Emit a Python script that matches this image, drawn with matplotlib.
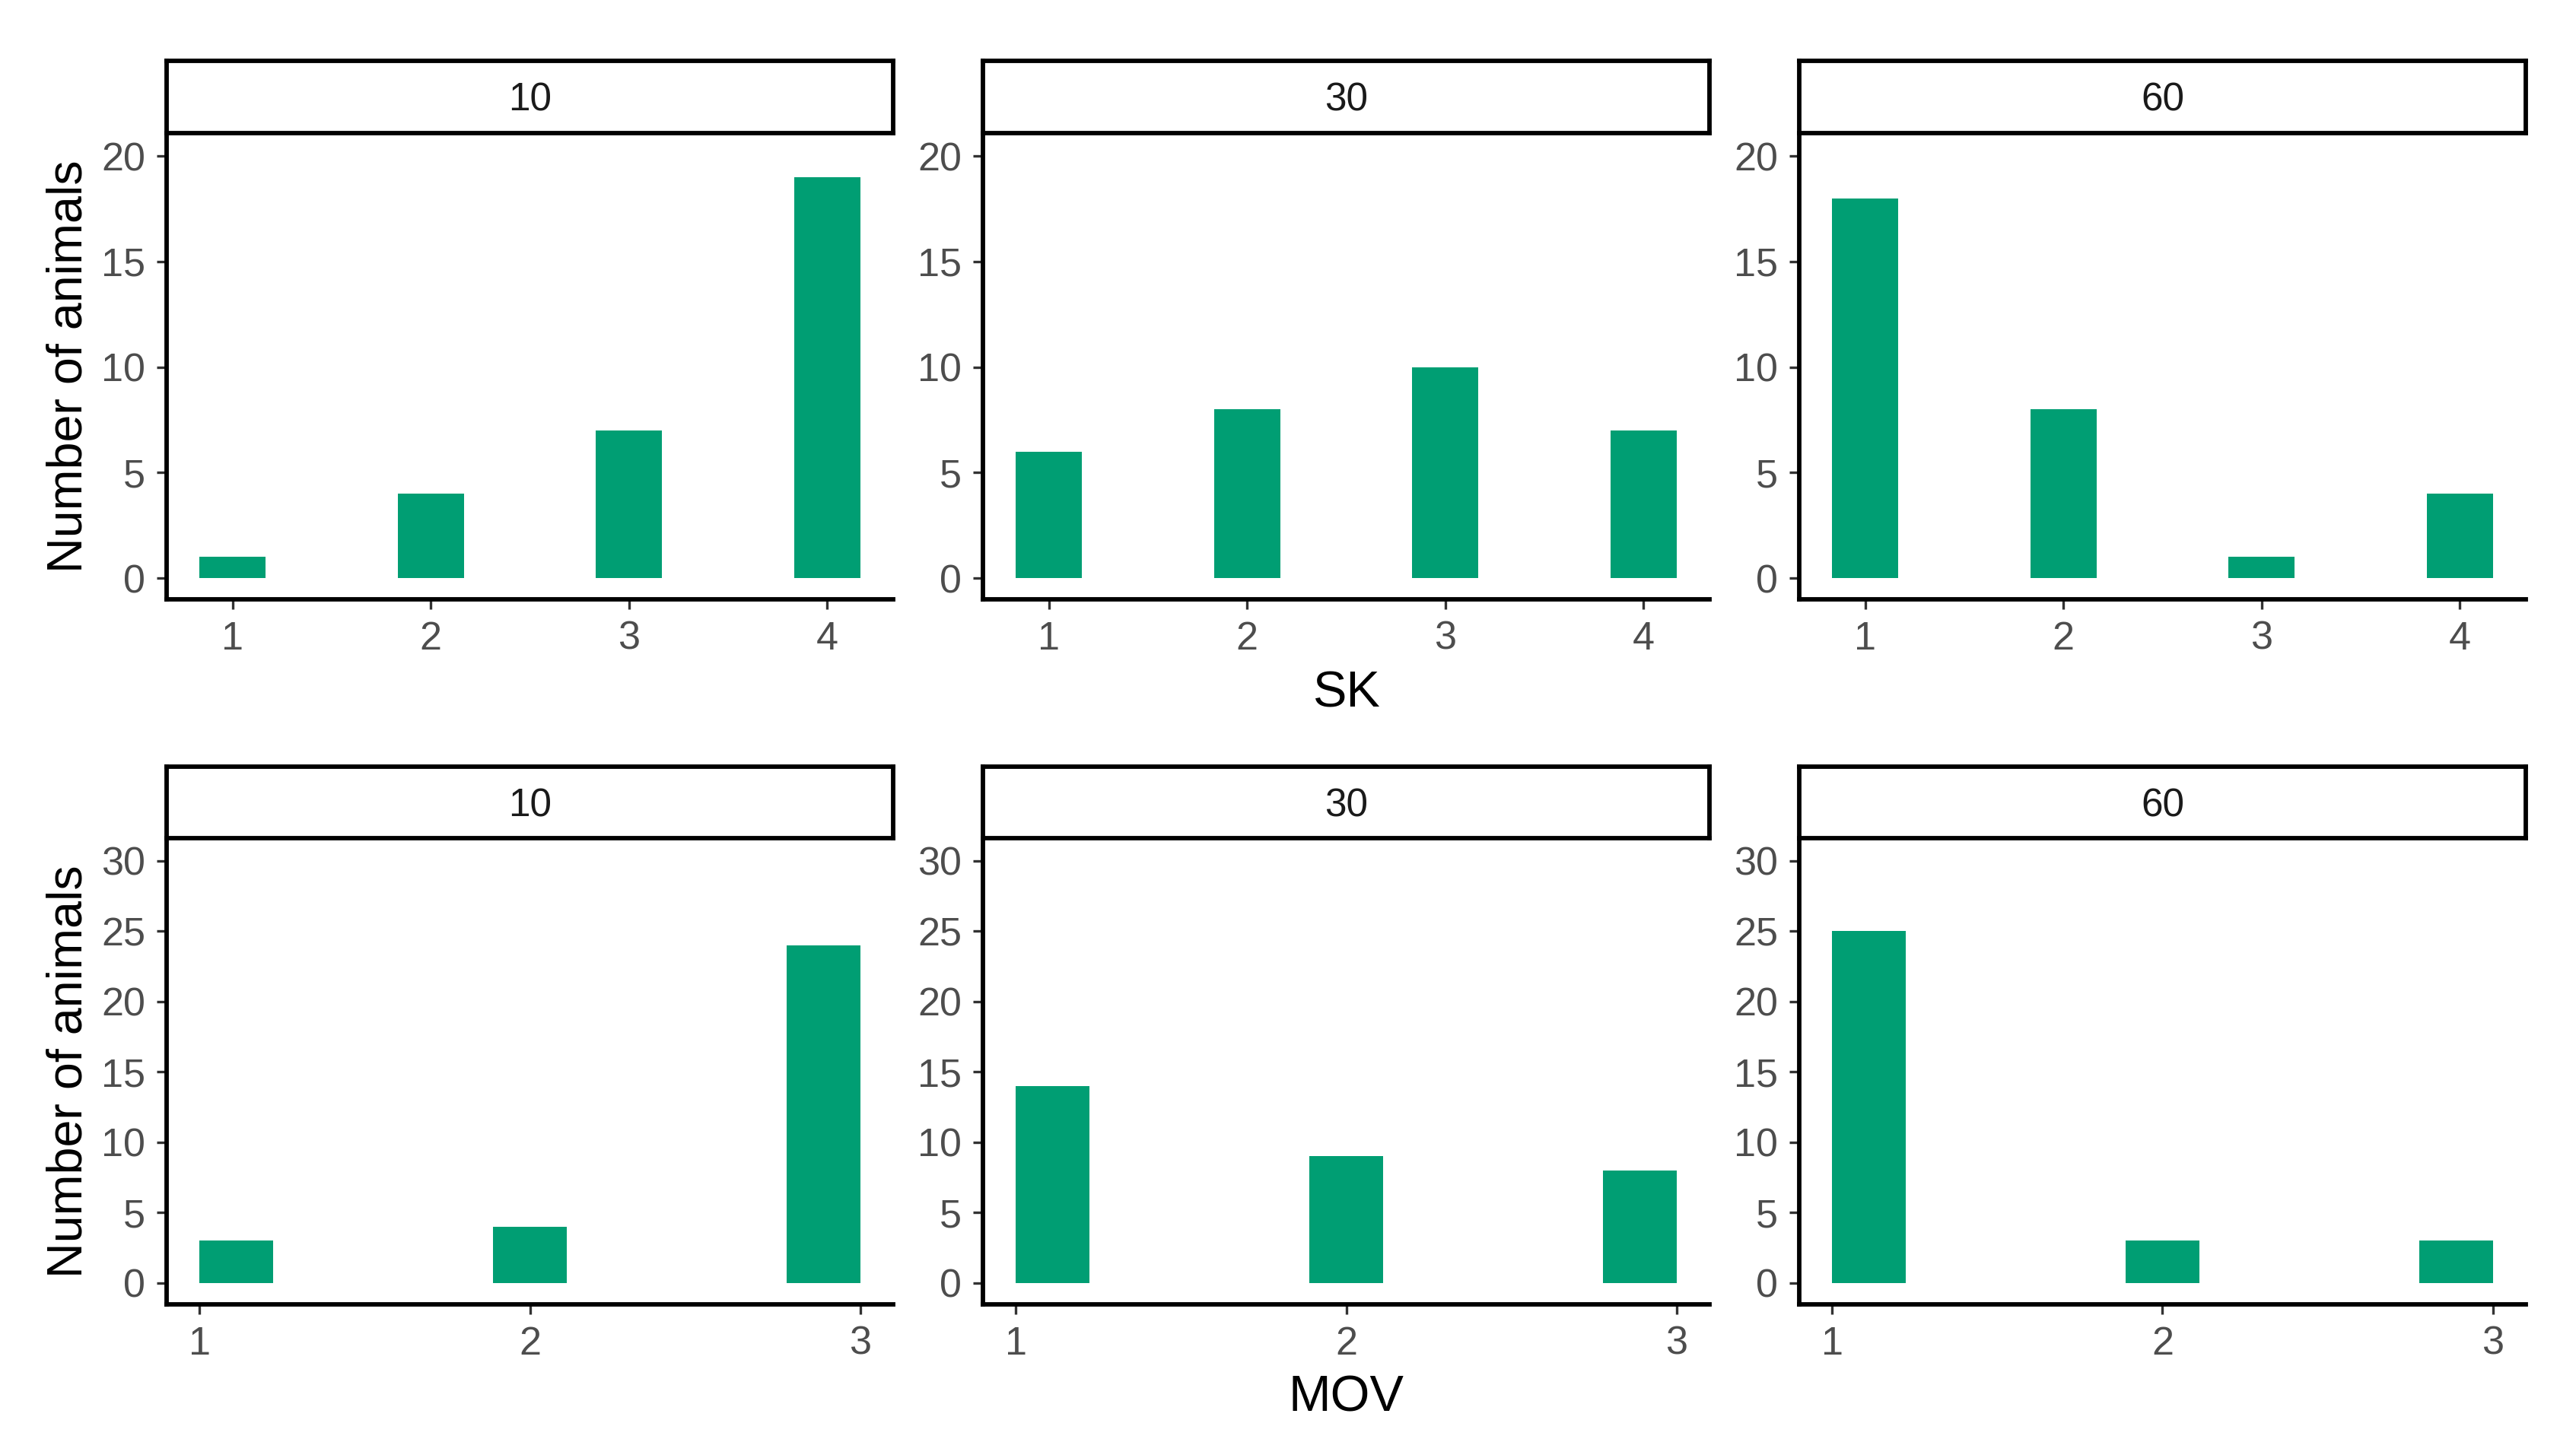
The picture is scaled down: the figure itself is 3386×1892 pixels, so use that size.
import numpy as np
import matplotlib
matplotlib.use("Agg")
import matplotlib.pyplot as plt

plt.rcParams['font.family'] = ['Liberation Sans', 'DejaVu Sans']

# data
groups = ['10', '30', '60']
sk_levels = [1, 2, 3, 4]
sk_counts = {
    '10': [1, 4, 7, 19],
    '30': [6, 8, 10, 7],
    '60': [18, 8, 1, 4],
}
mov_levels = [1, 2, 3]
mov_counts = {
    '10': [3, 4, 24],
    '30': [14, 9, 8],
    '60': [25, 3, 3],
}

BAR = '#009E73'
W, H = 3387, 1892
DPI = 300

fig = plt.figure(figsize=(W / DPI, H / DPI), dpi=DPI)

lefts = [219, 1292, 2365]
pw = 955

rows = [
    # levels, counts, bins, xlim, ylim, yticks, panel top/bottom px, strip top px, xlabel
    (sk_levels, sk_counts, np.arange(0.5 + 1/3, 4.2, 1/3), (2/3, 13/3), (-1.0, 21.05),
     [0, 5, 10, 15, 20], 176, 788, 80, 'SK'),
    (mov_levels, mov_counts, np.linspace(1, 3, 10), (0.9, 3.1), (-1.52, 31.55),
     [0, 5, 10, 15, 20, 25, 30], 1103, 1715, 1008, 'MOV'),
]

for levels, counts, bins, xlim, ylim, yticks, ptop, pbot, stop, xlab in rows:
    for i, g in enumerate(groups):
        x0 = lefts[i] / W
        ax = fig.add_axes([x0, 1 - pbot / H, pw / W, (pbot - ptop) / H])
        values = np.repeat(levels, counts[g])
        ax.hist(values, bins=bins, color=BAR, linewidth=0)
        ax.set_xlim(*xlim)
        ax.set_ylim(*ylim)
        ax.set_xticks(levels)
        ax.set_yticks(yticks)
        for s in ['top', 'right']:
            ax.spines[s].set_visible(False)
        for s in ['left', 'bottom']:
            ax.spines[s].set_linewidth(1.4)
            ax.spines[s].set_color('black')
        ax.tick_params(length=3.2, width=0.8, color='#333333', labelcolor='#4D4D4D',
                       labelsize=12.5, pad=3.5)

        # facet strip
        sx = fig.add_axes([x0, 1 - (ptop - 1) / H, pw / W, (ptop - 1 - stop) / H])
        sx.set_xticks([])
        sx.set_yticks([])
        for s in sx.spines.values():
            s.set_linewidth(1.4)
            s.set_color('black')
        fig.text((lefts[i] + pw / 2) / W, 1 - (stop + 66) / H, g, ha='center',
                 va='baseline', fontsize=12.3, color='#1A1A1A')

    fig.text(108 / W, 1 - (ptop + pbot) / 2 / H, 'Number of animals', rotation=90,
             rotation_mode='anchor', ha='center', va='baseline', fontsize=15.5,
             color='black')
    fig.text((lefts[1] + pw / 2) / W, 1 - (pbot + 141) / H, xlab, ha='center',
             va='baseline', fontsize=16, color='black')

fig.savefig('out.png', dpi=DPI, facecolor='white')
